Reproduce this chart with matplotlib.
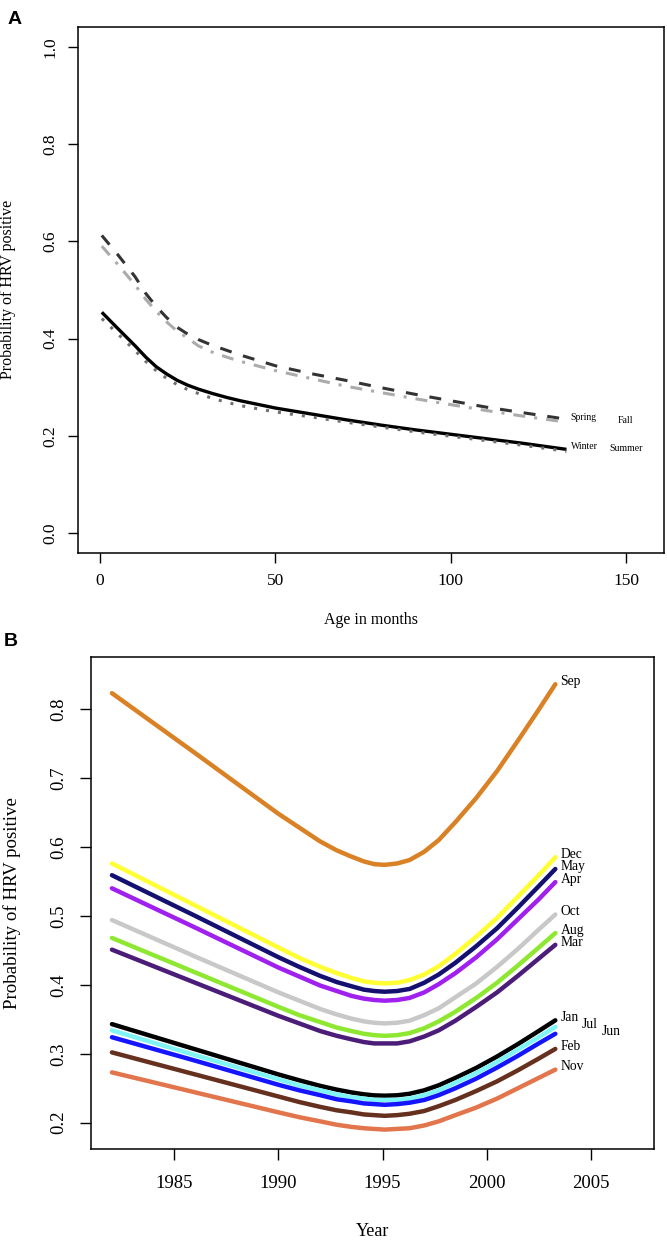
import matplotlib
matplotlib.use("Agg")
import matplotlib.pyplot as plt

plt.rcParams['font.family'] = ['Liberation Serif', 'DejaVu Serif']
plt.rcParams['lines.scale_dashes'] = False

# Panel A: probability of HRV positive by age, per season
age = [0.5, 5, 10, 13, 16, 19, 22, 25, 28, 32, 36, 40, 50, 60, 70, 80, 90, 100, 110, 120, 133]
spring = [0.612, 0.573, 0.527, 0.493, 0.466, 0.443, 0.423, 0.409, 0.398, 0.386, 0.376,
          0.366, 0.344, 0.328, 0.314, 0.299, 0.285, 0.272, 0.259, 0.248, 0.234]
fall = [0.590, 0.553, 0.510, 0.481, 0.456, 0.434, 0.415, 0.401, 0.385, 0.372, 0.362,
        0.353, 0.334, 0.318, 0.302, 0.289, 0.276, 0.264, 0.252, 0.241, 0.228]
winter = [0.454, 0.421, 0.385, 0.362, 0.342, 0.327, 0.314, 0.304, 0.296, 0.287, 0.279,
          0.272, 0.257, 0.245, 0.233, 0.222, 0.212, 0.203, 0.194, 0.185, 0.172]
summer = [0.441, 0.410, 0.375, 0.353, 0.334, 0.318, 0.305, 0.295, 0.287, 0.277, 0.269,
          0.262, 0.249, 0.239, 0.228, 0.218, 0.208, 0.199, 0.190, 0.181, 0.168]

# Panel B: probability of HRV positive by year, per month
year = [1982, 1986, 1990, 1991, 1992, 1992.8, 1993.5, 1994.1, 1994.6, 1995.1,
        1995.7, 1996.3, 1997, 1997.7, 1998.5, 1999.5, 2000.5, 2001.5, 2002.5, 2003.3]
sep = [0.823, 0.736, 0.648, 0.628, 0.608, 0.595, 0.586, 0.579, 0.575, 0.574,
       0.576, 0.581, 0.593, 0.610, 0.636, 0.671, 0.710, 0.754, 0.799, 0.836]
dec = [0.576, 0.515, 0.454, 0.439, 0.426, 0.417, 0.410, 0.405, 0.403, 0.402,
       0.403, 0.407, 0.415, 0.427, 0.445, 0.470, 0.497, 0.528, 0.559, 0.585]
may = [0.559, 0.500, 0.440, 0.426, 0.413, 0.404, 0.398, 0.393, 0.391, 0.390,
       0.391, 0.394, 0.403, 0.415, 0.432, 0.456, 0.482, 0.512, 0.543, 0.568]
apr = [0.540, 0.483, 0.425, 0.412, 0.399, 0.391, 0.384, 0.380, 0.378, 0.377,
       0.378, 0.381, 0.389, 0.401, 0.417, 0.440, 0.466, 0.495, 0.524, 0.549]
oct_ = [0.494, 0.441, 0.389, 0.377, 0.365, 0.357, 0.351, 0.347, 0.345, 0.344,
        0.345, 0.348, 0.356, 0.366, 0.382, 0.402, 0.426, 0.452, 0.480, 0.502]
aug = [0.468, 0.418, 0.368, 0.356, 0.346, 0.338, 0.333, 0.329, 0.327, 0.326,
       0.327, 0.330, 0.337, 0.347, 0.361, 0.381, 0.403, 0.428, 0.454, 0.475]
mar = [0.451, 0.403, 0.355, 0.344, 0.333, 0.326, 0.321, 0.317, 0.315, 0.315,
       0.315, 0.318, 0.325, 0.334, 0.348, 0.368, 0.389, 0.413, 0.438, 0.458]
jan = [0.343, 0.3065, 0.270, 0.2615, 0.2535, 0.2480, 0.2440, 0.2412, 0.2397, 0.2392,
       0.2398, 0.2420, 0.2470, 0.2543, 0.2650, 0.2795, 0.2960, 0.3140, 0.3330, 0.3485]
jul = [0.334, 0.298, 0.263, 0.254, 0.247, 0.241, 0.237, 0.235, 0.233, 0.233,
       0.233, 0.235, 0.240, 0.247, 0.258, 0.272, 0.288, 0.306, 0.324, 0.339]
jun = [0.324, 0.290, 0.255, 0.247, 0.240, 0.234, 0.231, 0.228, 0.227, 0.226,
       0.227, 0.229, 0.233, 0.240, 0.250, 0.264, 0.280, 0.297, 0.315, 0.329]
feb = [0.302, 0.270, 0.238, 0.230, 0.223, 0.218, 0.215, 0.212, 0.211, 0.210,
       0.211, 0.213, 0.217, 0.224, 0.233, 0.246, 0.260, 0.276, 0.293, 0.307]
nov = [0.273, 0.244, 0.215, 0.208, 0.202, 0.197, 0.194, 0.192, 0.191, 0.190,
       0.191, 0.192, 0.196, 0.202, 0.211, 0.222, 0.235, 0.250, 0.265, 0.277]

months = ['Sep', 'Dec', 'May', 'Apr', 'Oct', 'Aug', 'Mar', 'Jan', 'Jul', 'Jun', 'Feb', 'Nov']
month_values = [sep, dec, may, apr, oct_, aug, mar, jan, jul, jun, feb, nov]
month_colors = ['#DA8125', '#FFFF33', '#141070', '#A020F0', '#C8C8C8', '#8EE832',
                '#4B1C78', '#000000', '#80F4F4', '#1414FF', '#66301F', '#E2754C']

fig = plt.figure(figsize=(6.67, 12.4), dpi=100)

# ---------- A ----------
axA = fig.add_axes([0.1174, 0.5543, 0.8781, 0.4239])
axA.plot(age, winter, color='black', lw=2.4, solid_capstyle='butt')
axA.plot(age, summer, color='#707070', lw=2.2, dashes=(2.2, 6.5), dash_capstyle='butt')
axA.plot(age, spring, color='#333333', lw=2.2, dashes=(8.6, 8.6), dash_capstyle='butt')
axA.plot(age, fall, color='#ABABAB', lw=2.2, dashes=(8.6, 6.5, 2.2, 6.5), dash_capstyle='butt')

axA.text(134.2, spring[-1] + 0.004, 'Spring', fontsize=7, ha='left', va='center')
axA.text(147.7, fall[-1] + 0.003, 'Fall', fontsize=7, ha='left', va='center')
axA.text(134.2, winter[-1] + 0.006, 'Winter', fontsize=7, ha='left', va='center')
axA.text(145.2, summer[-1] + 0.005, 'Summer', fontsize=7, ha='left', va='center')

axA.set_xlim(-6.2, 160.8)
axA.set_ylim(-0.0405, 1.0407)
axA.set_xticks([0, 50, 100, 150])
axA.set_yticks([0.0, 0.2, 0.4, 0.6, 0.8, 1.0])
axA.set_yticklabels(['0.0', '0.2', '0.4', '0.6', '0.8', '1.0'], rotation=90, va='center')
axA.tick_params(direction='out', length=7.5, width=1, labelsize=12.5, pad=7)
axA.set_xlabel('Age in months', fontsize=11.5, va='center')
axA.set_ylabel('Probability of HRV positive', fontsize=11.5, va='center')
axA.xaxis.set_label_coords(0.5, -0.128)
axA.yaxis.set_label_coords(-0.12, 0.5)
for s in axA.spines.values():
    s.set_linewidth(1.1)

# ---------- B ----------
axB = fig.add_axes([0.136, 0.0734, 0.8445, 0.397])
for name, vals, col in zip(months, month_values, month_colors):
    axB.plot(year, vals, color=col, lw=3.2, solid_capstyle='round', solid_joinstyle='round')

label_shift = {'Jul': 1.0, 'Jun': 2.0}
for name, vals in zip(months, month_values):
    axB.text(year[-1] + 0.25 + label_shift.get(name, 0), vals[-1] + 0.004, name,
             fontsize=9.8, ha='left', va='center')

axB.set_xlim(1980.98, 2008.04)
axB.set_ylim(0.1619, 0.8759)
axB.set_xticks([1985, 1990, 1995, 2000, 2005])
axB.set_yticks([0.2, 0.3, 0.4, 0.5, 0.6, 0.7, 0.8])
axB.set_yticklabels(['0.2', '0.3', '0.4', '0.5', '0.6', '0.7', '0.8'], rotation=90, va='center')
axB.tick_params(direction='out', length=8, width=1, labelsize=13.5, pad=9)
axB.tick_params(axis='x', pad=11)
axB.set_xlabel('Year', fontsize=13, va='center')
axB.set_ylabel('Probability of HRV positive', fontsize=13.6, va='center')
axB.xaxis.set_label_coords(0.5, -0.168)
axB.yaxis.set_label_coords(-0.14, 0.5)
for s in axB.spines.values():
    s.set_linewidth(1.1)

fig.text(0.012, 0.991, 'A', fontsize=14, fontweight='bold', family='Liberation Sans', va='top')
fig.text(0.006, 0.4895, 'B', fontsize=14, fontweight='bold', family='Liberation Sans', va='top')

fig.savefig('out.png', dpi=100)
